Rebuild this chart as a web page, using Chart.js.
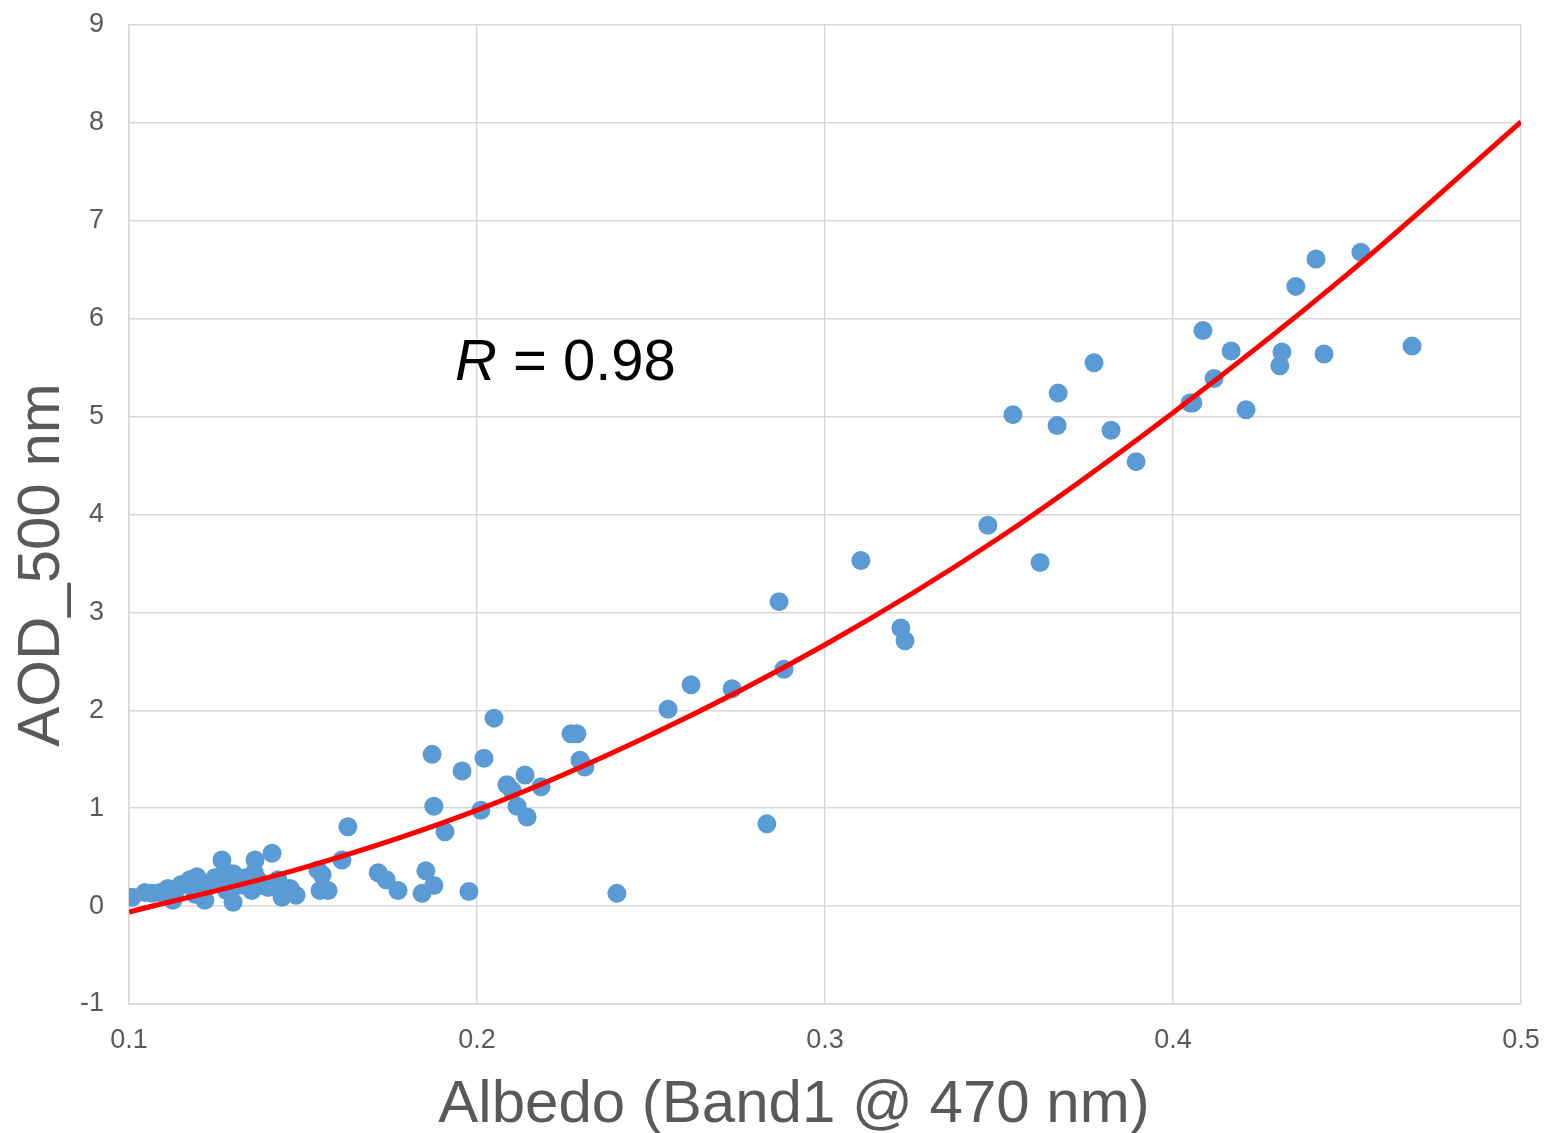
<!DOCTYPE html>
<html>
<head>
<meta charset="utf-8">
<script src="https://cdn.jsdelivr.net/npm/chart.js@4.4.1/dist/chart.umd.min.js"></script>
<style>
  html, body { margin: 0; padding: 0; background: #fff; }
  #wrap { width: 1550px; height: 1133px; }
</style>
</head>
<body>
<div id="wrap"><canvas id="chart" width="1550" height="1133"></canvas></div>
<script>
// albedo (x) and AOD (y)
const albedo = [
  0.1009, 0.1046, 0.1066, 0.1089, 0.1112, 0.1126, 0.1138, 0.1175, 0.1195, 0.1204,
  0.1218, 0.1233, 0.1247, 0.1267, 0.1276, 0.1290, 0.1299, 0.1313, 0.1333, 0.1353,
  0.1362, 0.1370, 0.1382, 0.1411, 0.1428, 0.1440, 0.1463, 0.1480, 0.1543, 0.1549,
  0.1555, 0.1572, 0.1612, 0.1629, 0.1716, 0.1739, 0.1773, 0.1842, 0.1853, 0.1876,
  0.1871, 0.1876, 0.1908, 0.1957, 0.1977, 0.2011, 0.2020, 0.2049, 0.2086, 0.2101,
  0.2115, 0.2138, 0.2144, 0.2184, 0.2270, 0.2287, 0.2296, 0.2310, 0.2402, 0.2549,
  0.2615, 0.2733, 0.2833, 0.2868, 0.2882, 0.3103, 0.3218, 0.3230, 0.3468, 0.3540,
  0.3618, 0.3670, 0.3667, 0.3773, 0.3822, 0.3894, 0.4049, 0.4057, 0.4086, 0.4118,
  0.4167, 0.4210, 0.4307, 0.4313, 0.4353, 0.4411, 0.4434, 0.4540, 0.4687,
  0.1150, 0.1210, 0.1260, 0.1300, 0.1340, 0.1190, 0.1280, 0.1320, 0.1360, 0.1400
];
const aod = [
  0.09, 0.14, 0.13, 0.14, 0.18, 0.06, 0.18, 0.27, 0.30, 0.14,
  0.06, 0.21, 0.29, 0.47, 0.35, 0.29, 0.04, 0.21, 0.29, 0.16,
  0.47, 0.27, 0.21, 0.54, 0.27, 0.09, 0.18, 0.11, 0.37, 0.16,
  0.32, 0.16, 0.47, 0.81, 0.34, 0.27, 0.16, 0.13, 0.36, 0.21,
  1.55, 1.02, 0.76, 1.38, 0.15, 0.98, 1.51, 1.92, 1.24, 1.18,
  1.02, 1.34, 0.91, 1.22, 1.76, 1.76, 1.49, 1.42, 0.13, 2.01,
  2.26, 2.22, 0.84, 3.11, 2.42, 3.53, 2.84, 2.71, 3.89, 5.02,
  3.51, 5.24, 4.91, 5.55, 4.86, 4.54, 5.14, 5.14, 5.88, 5.39,
  5.67, 5.07, 5.52, 5.66, 6.33, 6.61, 5.64, 6.68, 5.72,
  0.22, 0.18, 0.25, 0.33, 0.20, 0.12, 0.16, 0.24, 0.34, 0.19
];

// red trend curve, read at regular albedo steps
const trendX = [0.10, 0.15, 0.20, 0.25, 0.30, 0.35, 0.40, 0.45, 0.50];
const trendY = [-0.06, 0.39, 0.98, 1.75, 2.67, 3.76, 5.04, 6.45, 8.01];

const xTicks = [0.1, 0.2, 0.3, 0.4, 0.5];
const yTicks = [-1, 0, 1, 2, 3, 4, 5, 6, 7, 8, 9];

const points = albedo.map((x, i) => ({ x: x, y: aod[i] }));
const trend = trendX.map((x, i) => ({ x: x, y: trendY[i] }));

const FONT = "'Liberation Sans', Arial, sans-serif";

const textPlugin = {
  id: "texts",
  afterDraw(chart){
    const ctx = chart.ctx;
    ctx.save();
    ctx.fillStyle = "#595959";
    ctx.font = "60px " + FONT;
    ctx.textAlign = "center";
    ctx.textBaseline = "alphabetic";
    ctx.fillText("Albedo (Band1 @ 470 nm)", 794, 1122);

    ctx.translate(59, 565);
    ctx.rotate(-Math.PI / 2);
    ctx.fillText("AOD_500 nm", 0, 0);
    ctx.restore();

    // R annotation
    ctx.save();
    ctx.fillStyle = "#000";
    ctx.textBaseline = "alphabetic";
    ctx.textAlign = "left";
    ctx.font = "italic 58px " + FONT;
    ctx.fillText("R", 455, 380);
    const w = ctx.measureText("R").width;
    ctx.font = "58px " + FONT;
    ctx.fillText(" = 0.98", 455 + w, 380);
    ctx.restore();
  }
};

new Chart(document.getElementById("chart").getContext("2d"), {
  type: "scatter",
  data: {
    datasets: [
      {
        type: "line",
        label: "trend",
        data: trend,
        borderColor: "#ff0000",
        borderWidth: 5,
        pointRadius: 0,
        fill: false,
        cubicInterpolationMode: "monotone",
        order: 0
      },
      {
        label: "AOD",
        data: points,
        backgroundColor: "#5b9bd5",
        borderColor: "#5b9bd5",
        pointRadius: 9.5,
        pointHoverRadius: 9.5,
        borderWidth: 0,
        order: 1
      }
    ]
  },
  options: {
    responsive: false,
    animation: false,
    layout: { padding: { left: 0, right: 29, top: 25, bottom: 0 } },
    plugins: {
      legend: { display: false },
      tooltip: { enabled: false }
    },
    scales: {
      x: {
        type: "linear",
        min: 0.1,
        max: 0.5,
        afterFit(s){
          s.height = 1133 - 1004;
          s.paddingLeft = 0;
          s.paddingRight = 0;
        },
        afterBuildTicks(s){ s.ticks = xTicks.map(v => ({ value: v })); },
        ticks: {
          callback: v => v.toFixed(1),
          color: "#595959",
          font: { family: FONT, size: 27 },
          padding: 20
        },
        grid: { color: "#d9d9d9", lineWidth: 1.5, drawTicks: false },
        border: { color: "#d9d9d9", width: 1.5 }
      },
      y: {
        type: "linear",
        min: -1,
        max: 9,
        afterFit(s){
          s.width = 129;
          s.paddingTop = 0;
          s.paddingBottom = 0;
        },
        afterBuildTicks(s){ s.ticks = yTicks.map(v => ({ value: v })); },
        ticks: {
          color: "#595959",
          font: { family: FONT, size: 27 },
          padding: 25
        },
        grid: { color: "#d9d9d9", lineWidth: 1.5, drawTicks: false },
        border: { color: "#d9d9d9", width: 1.5 }
      }
    }
  },
  plugins: [textPlugin]
});
</script>
</body>
</html>
